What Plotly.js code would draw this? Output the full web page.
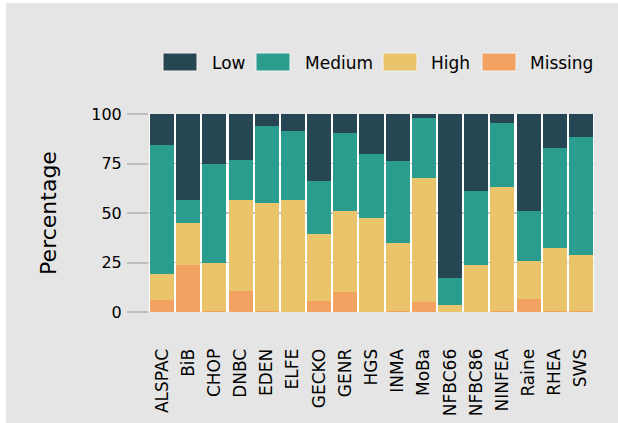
<!DOCTYPE html>
<html>
<head>
<meta charset="utf-8">
<script src="https://cdn.plot.ly/plotly-3.0.1.min.js"></script>
<style>
  html, body { margin: 0; padding: 0; background: #ffffff; }
  #chart { position: absolute; left: 6px; top: 3px; width: 612px; height: 420px; }
</style>
</head>
<body>
<div id="chart"></div>
<script>
// ---- data ----
const cohorts = ["ALSPAC","BiB","CHOP","DNBC","EDEN","ELFE","GECKO","GENR","HGS","INMA","MoBa","NFBC66","NFBC86","NINFEA","Raine","RHEA","SWS"];
const low     = [15.5, 43.5, 25.3, 23.3,  6.2,  8.4, 33.7,  9.5, 20.4, 23.6,  1.9, 83.0, 38.8,  4.4, 49.1, 17.4, 11.6];
const medium  = [65.1, 11.8, 50.1, 19.9, 38.7, 34.8, 27.0, 39.4, 31.9, 41.5, 30.3, 13.5, 37.6, 32.5, 25.3, 50.4, 59.6];
const high    = [13.5, 20.9, 24.1, 46.2, 54.8, 56.8, 33.9, 40.8, 47.7, 34.6, 62.7,  3.5, 23.6, 62.8, 19.2, 31.9, 28.5];
const missing = [ 5.9, 23.8,  0.5, 10.6,  0.3,  0.0,  5.4, 10.3,  0.0,  0.3,  5.1,  0.0,  0.0,  0.3,  6.4,  0.3,  0.3];
const seriesNames = ["Low", "Medium", "High", "Missing"];
const yTicks = [0, 25, 50, 75, 100];

// ---- styles ----
const colors = {Low: "#264653", Medium: "#2a9d8f", High: "#e9c46a", Missing: "#f4a261"};
const font = "DejaVu Sans, sans-serif";
const bg = "#e5e5e5";

const W = 612, H = 420;
const M = {l: 143, r: 24, t: 111, b: 111};
const plotW = W - M.l - M.r, plotH = H - M.t - M.b;
const px2x = p => (p - 6 - M.l) / plotW;
const px2y = p => (H - M.b - (p - 3)) / plotH;

const valuesByName = {Low: low, Medium: medium, High: high, Missing: missing};
const stackOrder = ["Missing", "High", "Medium", "Low"];
const traces = stackOrder.map(name => ({
  type: "bar",
  name: name,
  x: cohorts,
  y: valuesByName[name],
  marker: {color: colors[name], line: {width: 0}},
  showlegend: false,
  hoverinfo: "x+y+name"
}));

// custom legend (large swatches like reference)
const swatchLeft = [163, 256, 383, 482];
const textLeft = [210, 303, 429, 528];
const shapes = [], annotations = [];
seriesNames.forEach((name, i) => {
  shapes.push({
    type: "rect", xref: "paper", yref: "paper",
    x0: px2x(swatchLeft[i]), x1: px2x(swatchLeft[i] + 34),
    y0: px2y(71), y1: px2y(53),
    fillcolor: colors[name], line: {color: "#f2f2f2", width: 1}
  });
  annotations.push({
    xref: "paper", yref: "paper",
    x: px2x(textLeft[i]), y: px2y(63),
    xanchor: "left", yanchor: "middle",
    text: name, showarrow: false,
    font: {family: font, size: 17, color: "#000000"}
  });
});

const layout = {
  width: W, height: H,
  margin: M,
  paper_bgcolor: bg,
  plot_bgcolor: "#ffffff",
  barmode: "stack",
  bargap: 0.08,
  showlegend: false,
  font: {family: font, size: 16, color: "#000000"},
  xaxis: {
    type: "category",
    range: [-0.5, cohorts.length - 0.5],
    tickangle: -90,
    ticks: "outside", ticklen: 29, tickcolor: "rgba(0,0,0,0)",
    tickfont: {family: font, size: 17, color: "#000000"},
    showgrid: false, zeroline: false, showline: false,
    fixedrange: true
  },
  yaxis: {
    range: [0, 100],
    tickvals: yTicks,
    ticktext: yTicks.map(String),
    ticks: "outside", ticklen: 21, tickwidth: 2, tickcolor: "#bdbdbd",
    ticklabelstandoff: 2,
    tickfont: {family: font, size: 16, color: "#000000"},
    showgrid: true, gridcolor: "#c4c4c4", gridwidth: 1.5,
    zeroline: false, showline: false,
    title: {text: "Percentage", font: {family: font, size: 22, color: "#000000"}, standoff: 28},
    fixedrange: true
  },
  shapes: shapes,
  annotations: annotations
};

Plotly.newPlot("chart", traces, layout, {displayModeBar: false, staticPlot: true});
</script>
</body>
</html>
